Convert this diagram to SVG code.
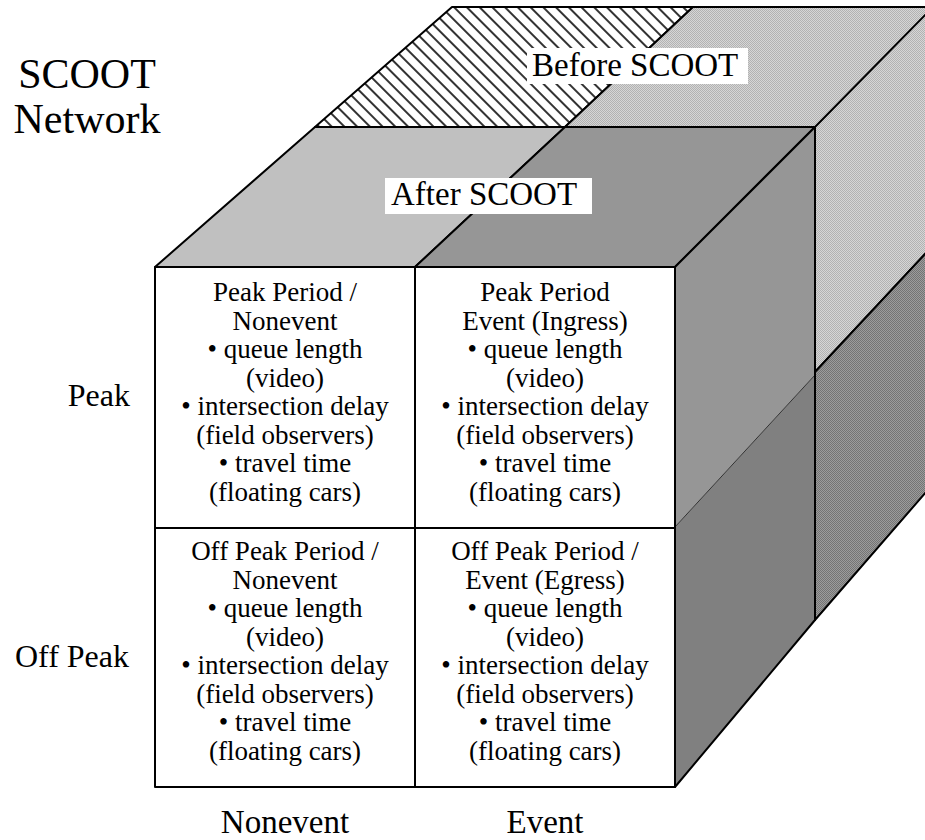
<svg xmlns="http://www.w3.org/2000/svg" width="925" height="840" viewBox="0 0 925 840">
<style>
  text { font-family: "Liberation Serif", "Times New Roman", serif; fill: #000; }
  .cell { font-size: 27px; text-anchor: middle; }
  .axis { font-size: 32px; }
  .axisb { font-size: 33px; text-anchor: middle; }
  .title { font-size: 42px; text-anchor: middle; }
  .tag { font-size: 33px; }
  .edge { stroke: #000; stroke-width: 2; fill: none; stroke-linejoin: round; }
  .face { stroke: #000; stroke-width: 2; stroke-linejoin: round; }
  .box { fill: #fff; stroke: none; }
</style>
<defs>
  <pattern id="hatch" width="9" height="9" patternUnits="userSpaceOnUse" patternTransform="rotate(-45)">
    <rect width="9" height="9" fill="#fff"/>
    <line x1="1" y1="0" x2="1" y2="9" stroke="#000" stroke-width="1.6"/>
  </pattern>
  <pattern id="stipLight" width="2" height="2" patternUnits="userSpaceOnUse">
    <rect width="2" height="2" fill="#d6d6d6"/>
    <rect x="0" y="0" width="1" height="1" fill="#b2b2b2"/>
    <rect x="1" y="1" width="1" height="1" fill="#b2b2b2"/>
  </pattern>
  <pattern id="stipDark" width="2" height="2" patternUnits="userSpaceOnUse">
    <rect width="2" height="2" fill="#9c9c9c"/>
    <rect x="0" y="0" width="1" height="1" fill="#747474"/>
    <rect x="1" y="1" width="1" height="1" fill="#747474"/>
  </pattern>
</defs>

<g id="title">
  <text class="title" x="87" y="88">SCOOT</text>
  <text class="title" x="87" y="133">Network</text>
</g>

<g id="before-scoot">
  <polygon class="face" fill="url(#hatch)" points="315,127 452,7 693,7 565,127"/>
  <polygon class="face" fill="url(#stipLight)" points="565,127 693,7 940,7 940,0 940,238 815,372 815,127"/>
  <polygon class="face" fill="url(#stipLight)" points="815,127 933,7 940,7 940,238 815,372"/>
  <polygon class="face" fill="url(#stipDark)" points="815,372 940,238 940,476 815,620"/>
  <line class="edge" x1="452" y1="7" x2="940" y2="7"/>
</g>

<g id="after-scoot">
  <polygon class="face" fill="#c0c0c0" points="155,267 315,127 565,127 415,267"/>
  <polygon class="face" fill="#969696" points="415,267 565,127 815,127 675,267"/>
  <polygon fill="#969696" points="675,267 815,127 815,375 675,527"/>
  <polygon fill="#808080" points="675,527 815,375 815,620 675,787"/>
  <line x1="675" y1="527" x2="815" y2="375" stroke="#333" stroke-width="1"/>
  <polygon class="edge" points="675,267 815,127 815,620 675,787"/>
</g>

<g id="cell-peak-nonevent">
  <rect class="face" fill="#fff" x="155" y="267" width="260" height="261"/>
  <text class="cell" x="285" y="301">Peak Period /</text>
  <text class="cell" x="285" y="329.5">Nonevent</text>
  <text class="cell" x="285" y="358">• queue length</text>
  <text class="cell" x="285" y="386.5">(video)</text>
  <text class="cell" x="285" y="415">• intersection delay</text>
  <text class="cell" x="285" y="443.5">(field observers)</text>
  <text class="cell" x="285" y="472">• travel time</text>
  <text class="cell" x="285" y="500.5">(floating cars)</text>
</g>

<g id="cell-peak-event">
  <rect class="face" fill="#fff" x="415" y="267" width="260" height="261"/>
  <text class="cell" x="545" y="301">Peak Period</text>
  <text class="cell" x="545" y="329.5">Event (Ingress)</text>
  <text class="cell" x="545" y="358">• queue length</text>
  <text class="cell" x="545" y="386.5">(video)</text>
  <text class="cell" x="545" y="415">• intersection delay</text>
  <text class="cell" x="545" y="443.5">(field observers)</text>
  <text class="cell" x="545" y="472">• travel time</text>
  <text class="cell" x="545" y="500.5">(floating cars)</text>
</g>

<g id="cell-offpeak-nonevent">
  <rect class="face" fill="#fff" x="155" y="528" width="260" height="259"/>
  <text class="cell" x="285" y="560">Off Peak Period /</text>
  <text class="cell" x="285" y="588.5">Nonevent</text>
  <text class="cell" x="285" y="617">• queue length</text>
  <text class="cell" x="285" y="645.5">(video)</text>
  <text class="cell" x="285" y="674">• intersection delay</text>
  <text class="cell" x="285" y="702.5">(field observers)</text>
  <text class="cell" x="285" y="731">• travel time</text>
  <text class="cell" x="285" y="759.5">(floating cars)</text>
</g>

<g id="cell-offpeak-event">
  <rect class="face" fill="#fff" x="415" y="528" width="260" height="259"/>
  <text class="cell" x="545" y="560">Off Peak Period /</text>
  <text class="cell" x="545" y="588.5">Event (Egress)</text>
  <text class="cell" x="545" y="617">• queue length</text>
  <text class="cell" x="545" y="645.5">(video)</text>
  <text class="cell" x="545" y="674">• intersection delay</text>
  <text class="cell" x="545" y="702.5">(field observers)</text>
  <text class="cell" x="545" y="731">• travel time</text>
  <text class="cell" x="545" y="759.5">(floating cars)</text>
</g>

<g id="label-before">
  <rect class="box" x="527" y="48" width="221" height="36"/>
  <text class="tag" x="532" y="76">Before SCOOT</text>
</g>

<g id="label-after">
  <rect class="box" x="385" y="178" width="207" height="36"/>
  <text class="tag" x="391" y="205">After SCOOT</text>
</g>

<g id="axis-labels">
  <text class="axis" x="130" y="406" text-anchor="end">Peak</text>
  <text class="axis" x="129" y="667" text-anchor="end">Off Peak</text>
  <text class="axisb" x="285" y="833">Nonevent</text>
  <text class="axisb" x="545" y="833">Event</text>
</g>

<g id="connectors"></g>
</svg>
